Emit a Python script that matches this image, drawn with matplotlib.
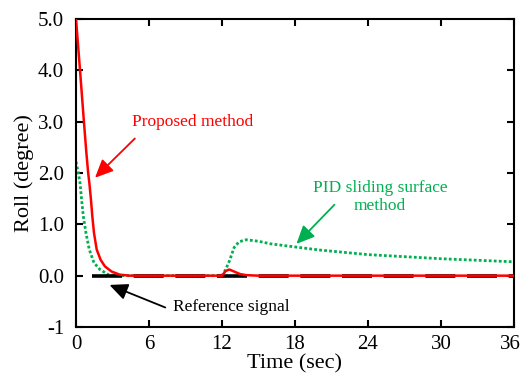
import matplotlib
matplotlib.use("Agg")
import matplotlib.pyplot as plt
import matplotlib.transforms as mtransforms

plt.rcParams['font.family'] = 'Liberation Serif'
plt.rcParams['lines.scale_dashes'] = False

# Proposed method (red)
t_prop = [0, 0.33, 0.65, 0.85, 1.0, 1.1, 1.23, 1.34, 1.48, 1.7, 2.02, 2.38, 2.93, 3.6, 4.4,
          12.0, 12.3, 12.6, 13.0, 13.5, 14.0, 15.0, 36]
roll_prop = [5.0, 4.0, 3.0, 2.4, 2.0, 1.8, 1.48, 1.16, 0.83, 0.51, 0.31, 0.18, 0.08, 0.02, 0.0,
             0.0, 0.09, 0.12, 0.08, 0.03, 0.01, 0.0, 0.0]

# PID sliding surface method (green)
t_pid = [0, 0.19, 0.33, 0.46, 0.6, 0.82, 1.09, 1.48, 1.97, 2.65, 3.4,
         12.0, 12.3, 12.6, 13.0, 13.4, 14.0, 15.0, 16.0, 18.0, 20.0, 24.0, 27.0, 30.0, 33.0, 36.0]
roll_pid = [2.22, 2.0, 1.81, 1.48, 1.16, 0.83, 0.51, 0.25, 0.12, 0.02, 0.0,
            0.0, 0.12, 0.28, 0.55, 0.66, 0.70, 0.67, 0.62, 0.56, 0.50, 0.41, 0.37, 0.33, 0.30, 0.27]

# Reference signal
t_ref = [1.3, 36]
roll_ref = [0, 0]

xticks = [0, 6, 12, 18, 24, 30, 36]
yticks = [-1, 0, 1, 2, 3, 4, 5]
ylabels = ['-1', '0.0', '1.0', '2.0', '3.0', '4.0', '5.0']

green = '#00b050'
red = '#ff0000'

fig = plt.figure(figsize=(5.22, 3.76), dpi=100)
ax = fig.add_axes([0.1456, 0.1303, 0.839, 0.8192])

ax.plot(t_pid, roll_pid, color=green, lw=2.0, dashes=(2, 1.6), zorder=2)
ax.plot(t_ref, roll_ref, color='black', lw=2.6, dashes=(21.6, 8.4), zorder=3)
ax.plot(t_prop, roll_prop, color=red, lw=1.8, zorder=4)

ax.set_xlim(0, 36)
ax.set_ylim(-1, 5)
ax.set_xticks(xticks)
ax.set_yticks(yticks)
ax.set_yticklabels(ylabels)
ax.tick_params(direction='in', length=5, width=1.5, top=True, right=True, labelsize=15)
ax.tick_params(axis='y', pad=8.5)
ax.tick_params(axis='x', pad=6)
for s in ax.spines.values():
    s.set_linewidth(1.5)

# last x label sits a bit left of its tick, as in the original
lab = ax.get_xticklabels()[-1]
lab.set_transform(lab.get_transform() + mtransforms.ScaledTranslation(-4 / 100, 0, fig.dpi_scale_trans))

ax.set_xlabel('Time (sec)', fontsize=16, labelpad=0)
ax.set_ylabel('Roll (degree)', fontsize=16, labelpad=3)

# Annotations
arrow = dict(arrowstyle='-|>,head_length=0.55,head_width=0.25', lw=1.3, mutation_scale=20)
ax.annotate('', xy=(1.4, 1.87), xytext=(5.0, 2.71), arrowprops=dict(arrow, color=red))
ax.text(9.6, 3.0, 'Proposed method', color=red, fontsize=12.5, ha='center', va='center')

ax.annotate('', xy=(17.96, 0.58), xytext=(21.4, 1.42), arrowprops=dict(arrow, color=green))
ax.text(25.0, 1.53, 'PID sliding surface\nmethod', color=green, fontsize=12.5,
        ha='center', va='center', linespacing=1.2)

ax.annotate('', xy=(2.54, -0.16), xytext=(7.55, -0.64), arrowprops=dict(arrow, color='black'))
ax.text(7.95, -0.62, 'Reference signal', color='black', fontsize=12.5, ha='left', va='center')

fig.savefig('out.png', dpi=100)
